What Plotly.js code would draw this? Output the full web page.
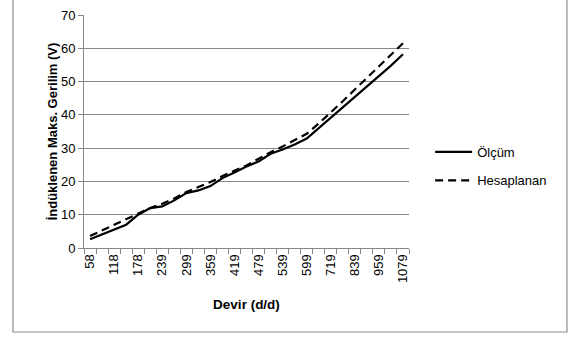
<!DOCTYPE html>
<html>
<head>
<meta charset="utf-8">
<script src="https://cdn.plot.ly/plotly-3.0.1.min.js"></script>
<style>html,body{margin:0;padding:0;background:#fff;}#chart{width:569px;height:338px;}</style>
</head>
<body>
<div id="chart"></div>
<script>
const categories = ["58","88","118","148","178","208","239","269","299","329","359","389","419","449","479","509","539","569","599","659","719","779","839","899","959","1019","1079"];
const tickLabels = ["58","","118","","178","","239","","299","","359","","419","","479","","539","","599","","719","","839","","959","","1079"];
const olcum = [2.6,4.1,5.5,7.0,10.0,12.0,12.5,14.3,16.5,17.3,18.6,21.0,22.7,24.5,26.0,28.3,29.6,31.1,32.9,36.0,39.2,42.3,45.4,48.5,51.7,54.8,58.2];
const hesaplanan = [3.6,5.3,7.0,8.6,10.3,12.0,13.3,14.9,16.8,18.2,19.8,21.6,23.2,24.8,26.8,28.8,30.5,32.3,34.3,37.4,40.7,44.1,47.6,51.0,54.4,57.8,61.5];
const seriesNames = ["Ölçüm","Hesaplanan"];

const FONT = "Liberation Sans, Arial, sans-serif";
const GRID = "#878787";

const traces = [
  {x: categories, y: olcum, name: seriesNames[0], type: "scatter", mode: "lines",
   line: {color: "#000", width: 2.2}, legend: "legend"},
  {x: categories, y: hesaplanan, name: seriesNames[1], type: "scatter", mode: "lines",
   line: {color: "#000", width: 2.2, dash: "8px,5px"}, legend: "legend2"}
];

const layout = {
  width: 569, height: 338,
  margin: {l: 84, r: 160, t: 15, b: 90, pad: 0},
  paper_bgcolor: "#fff", plot_bgcolor: "#fff",
  font: {family: FONT, size: 13, color: "#000"},
  showlegend: true,
  xaxis: {
    type: "category",
    range: [-0.5, categories.length - 0.5],
    tickmode: "array", tickvals: categories, ticktext: tickLabels,
    tickangle: -90, tickson: "boundaries",
    ticks: "outside", ticklen: 5, tickcolor: GRID, tickwidth: 1,
    showline: true, linecolor: GRID, linewidth: 1,
    showgrid: false, zeroline: false,
    tickfont: {family: FONT, size: 13, color: "#000"},
    title: {text: "<b>Devir (d/d)</b>", font: {family: FONT, size: 13.5, color: "#000"}, standoff: 17},
    automargin: false
  },
  yaxis: {
    range: [0, 70], dtick: 10, tick0: 0,
    ticks: "outside", ticklen: 5, tickcolor: GRID, tickwidth: 1,
    showline: true, linecolor: GRID, linewidth: 1,
    showgrid: true, gridcolor: GRID, gridwidth: 1, zeroline: false,
    tickfont: {family: FONT, size: 13, color: "#000"},
    title: {text: "<b>İndüklenen Maks. Gerilim (V)</b>", font: {family: FONT, size: 13, color: "#000"}, standoff: 0},
    automargin: false
  },
  legend: {x: 1.065, xanchor: "left", y: 0.412, yanchor: "middle", bgcolor: "rgba(0,0,0,0)",
           font: {family: FONT, size: 13, color: "#000"}, itemwidth: 37},
  legend2: {x: 1.065, xanchor: "left", y: 0.29, yanchor: "middle", bgcolor: "rgba(0,0,0,0)",
           font: {family: FONT, size: 13, color: "#000"}, itemwidth: 37},
  shapes: [
    {type: "rect", xref: "paper", yref: "paper", x0: -0.2185, x1: 1.486, y0: -0.3605, y1: 1.08,
     line: {color: "#8c8c8c", width: 1.2}, fillcolor: "rgba(0,0,0,0)", layer: "below"}
  ]
};

Plotly.newPlot("chart", traces, layout, {staticPlot: true, displayModeBar: false});
</script>
</body>
</html>
